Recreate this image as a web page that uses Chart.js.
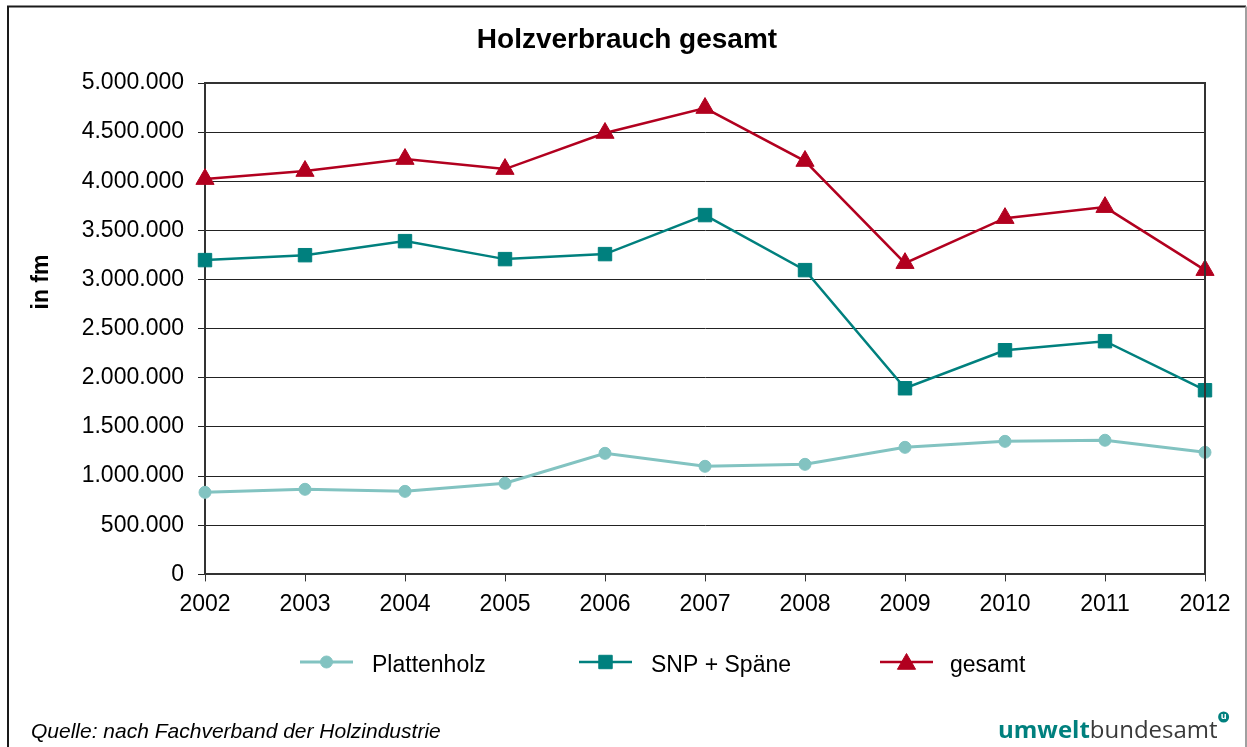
<!DOCTYPE html>
<html>
<head>
<meta charset="utf-8">
<title>Holzverbrauch gesamt</title>
<script src="https://cdn.jsdelivr.net/npm/chart.js@4.4.1/dist/chart.umd.min.js"></script>
<style>
body { margin: 0; background: #fff; }
#grafica { display: block; }
</style>
</head>
<body>
<canvas id="grafica" width="1247" height="747"></canvas>
<script>
// datos (fm)
var anios = ['2002', '2003', '2004', '2005', '2006', '2007', '2008', '2009', '2010', '2011', '2012'];
var plattenholz = [835000, 866000, 845000, 927000, 1232000, 1100000, 1120000, 1293000, 1354000, 1365000, 1242000];
var snpSpaene = [3198000, 3248000, 3391000, 3208000, 3259000, 3656000, 3096000, 1894000, 2281000, 2373000, 1874000];
var gesamt = [4022000, 4104000, 4226000, 4124000, 4491000, 4745000, 4206000, 3167000, 3625000, 3737000, 3096000];
var etiquetas = ['Plattenholz', 'SNP + Späne', 'gesamt'];
var ejeMin = 0, ejeMax = 5000000, ejePaso = 500000;

var fuente = '"Liberation Sans", Arial, sans-serif';
var rojo = '#B2001F', teal = '#00807E', tealClaro = '#82C3C1';

function formatoMiles(v) {
  return String(v).replace(/\B(?=(\d{3})+(?!\d))/g, '.');
}

// marco, titulo, leyenda y pie
var extras = {
  id: 'extras',
  afterDraw: function(chart) {
    var ctx = chart.ctx;
    var area = chart.chartArea;
    ctx.save();

    // marco exterior
    ctx.lineWidth = 2;
    ctx.strokeStyle = '#1a1a1a';
    ctx.beginPath();
    ctx.moveTo(8, 747); ctx.lineTo(8, 6.5); ctx.lineTo(1246, 6.5);
    ctx.stroke();
    ctx.strokeStyle = '#a0a0a0';
    ctx.beginPath();
    ctx.moveTo(1246, 6.5); ctx.lineTo(1246, 747);
    ctx.stroke();

    // borde superior y derecho del area
    ctx.strokeStyle = '#333';
    ctx.lineWidth = 2;
    ctx.beginPath();
    ctx.moveTo(area.left, area.top); ctx.lineTo(area.right, area.top); ctx.lineTo(area.right, area.bottom);
    ctx.stroke();

    // titulo
    ctx.fillStyle = '#000';
    ctx.font = 'bold 28px ' + fuente;
    ctx.textAlign = 'center';
    ctx.textBaseline = 'alphabetic';
    ctx.fillText('Holzverbrauch gesamt', 627, 48);

    // titulo eje y
    ctx.save();
    ctx.translate(48, 282);
    ctx.rotate(-Math.PI / 2);
    ctx.font = 'bold 23px ' + fuente;
    ctx.fillText('in fm', 0, 0);
    ctx.restore();

    // leyenda
    var posiciones = [{x: 300, t: 372}, {x: 579, t: 651}, {x: 880, t: 950}];
    var yl = 662;
    chart.data.datasets.forEach(function(ds, i) {
      var p = posiciones[i];
      ctx.strokeStyle = ds.borderColor;
      ctx.lineWidth = ds.borderWidth;
      ctx.beginPath();
      ctx.moveTo(p.x, yl); ctx.lineTo(p.x + 53, yl);
      ctx.stroke();
      ctx.fillStyle = ds.pointBackgroundColor;
      ctx.strokeStyle = ds.pointBorderColor;
      ctx.lineWidth = ds.pointBorderWidth;
      Chart.helpers.drawPoint(ctx, {
        pointStyle: ds.pointStyle,
        radius: ds.pointRadius,
        rotation: 0,
        borderWidth: ds.pointBorderWidth
      }, p.x + 26.5, yl + (ds.pointStyle === 'triangle' ? 2 : 0));
      ctx.fillStyle = '#000';
      ctx.font = '23px ' + fuente;
      ctx.textAlign = 'left';
      ctx.textBaseline = 'alphabetic';
      ctx.fillText(ds.label, p.t, 672);
    });

    // fuente
    ctx.fillStyle = '#000';
    ctx.font = 'italic 21px ' + fuente;
    ctx.textAlign = 'left';
    ctx.fillText('Quelle: nach Fachverband der Holzindustrie', 31, 738);

    // logo
    var x = 998;
    ctx.font = 'bold 24px "Open Sans", sans-serif';
    ctx.fillStyle = teal;
    ctx.fillText('umwelt', x, 738);
    x += ctx.measureText('umwelt').width;
    ctx.font = '24px "Open Sans", sans-serif';
    ctx.fillStyle = '#3a3a3a';
    ctx.fillText('bundesamt', x, 738);
    x += ctx.measureText('bundesamt').width;
    ctx.fillStyle = teal;
    ctx.beginPath();
    ctx.arc(x + 6, 717, 5.5, 0, Math.PI * 2);
    ctx.fill();
    ctx.fillStyle = '#fff';
    ctx.font = 'bold 9px "Open Sans", sans-serif';
    ctx.textAlign = 'center';
    ctx.textBaseline = 'middle';
    ctx.fillText('u', x + 6, 716.5);

    ctx.restore();
  }
};

new Chart(document.getElementById('grafica'), {
  type: 'line',
  data: {
    labels: anios,
    datasets: [
      {
        label: etiquetas[0],
        data: plattenholz,
        borderColor: tealClaro,
        borderWidth: 3,
        pointStyle: 'circle',
        pointRadius: 6,
        pointBackgroundColor: tealClaro,
        pointBorderColor: tealClaro,
        pointBorderWidth: 1,
        tension: 0,
        clip: false
      },
      {
        label: etiquetas[1],
        data: snpSpaene,
        borderColor: teal,
        borderWidth: 2.5,
        pointStyle: 'rect',
        pointRadius: 9.5,
        pointBackgroundColor: teal,
        pointBorderColor: teal,
        pointBorderWidth: 1,
        tension: 0,
        clip: false
      },
      {
        label: etiquetas[2],
        data: gesamt,
        borderColor: rojo,
        borderWidth: 2.5,
        pointStyle: 'triangle',
        pointRadius: 10.5,
        pointBackgroundColor: rojo,
        pointBorderColor: rojo,
        pointBorderWidth: 1,
        tension: 0,
        clip: false
      }
    ]
  },
  options: {
    responsive: false,
    animation: false,
    devicePixelRatio: 1,
    layout: { padding: { top: 83, left: 0, right: 42, bottom: 120 } },
    plugins: {
      legend: { display: false },
      title: { display: false },
      tooltip: { enabled: false }
    },
    scales: {
      x: {
        offset: false,
        grid: { display: true, drawOnChartArea: false, drawTicks: true, tickLength: 7, color: '#333', lineWidth: 1 },
        border: { display: true, color: '#333', width: 2 },
        ticks: { color: '#000', padding: 9, font: { family: fuente, size: 23 }, maxRotation: 0, autoSkip: false }
      },
      y: {
        min: ejeMin,
        max: ejeMax,
        afterFit: function(escala) { escala.width = 205; },
        grid: { color: '#222', lineWidth: 1, tickLength: 7 },
        border: { display: true, color: '#333', width: 2 },
        ticks: {
          stepSize: ejePaso,
          color: '#000',
          padding: 14,
          font: { family: fuente, size: 23 },
          callback: function(v) { return formatoMiles(v); }
        }
      }
    }
  },
  plugins: [extras]
});
</script>
</body>
</html>
